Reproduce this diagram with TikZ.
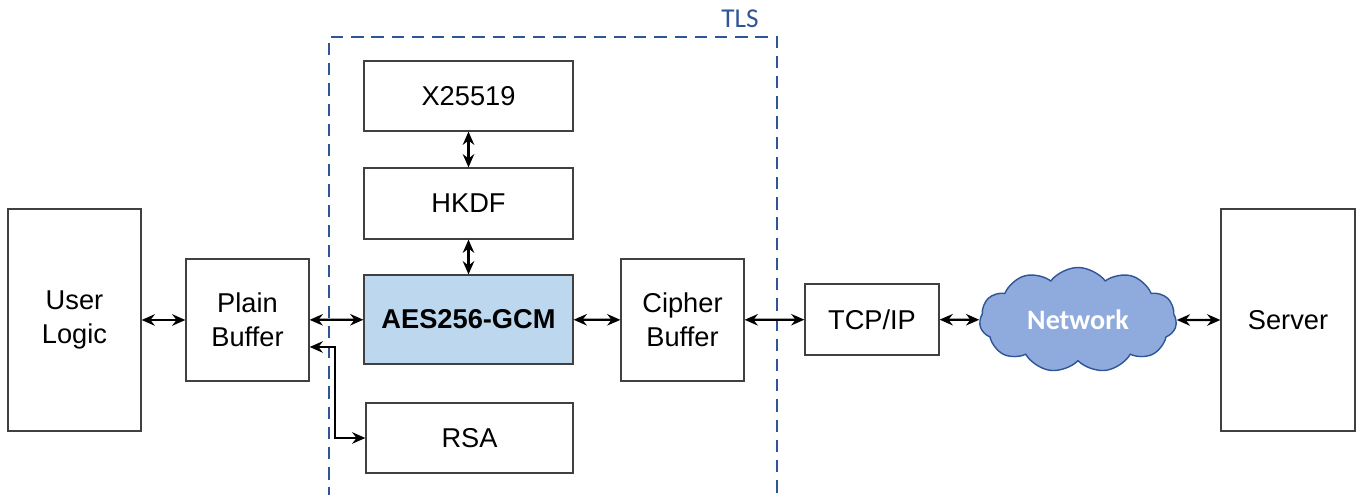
\documentclass[tikz,border=0pt]{standalone}
\usepackage{fontspec}
\setmainfont{Liberation Sans}
\newfontfamily\calibri{Carlito}
\usetikzlibrary{arrows.meta}
\usetikzlibrary{shapes.symbols}

\definecolor{tlsblue}{HTML}{2F5597}
\definecolor{aesfill}{HTML}{BDD7EE}
\definecolor{cloudfill}{HTML}{8FAADC}
\definecolor{boxline}{HTML}{404040}

\begin{document}
\begin{tikzpicture}[>={Stealth[length=7.5pt,width=6.5pt]}]
          \tikzstyle{block} = [draw=boxline, line width=0.7pt, align=center, font=\fontsize{15.5}{19.5}\selectfont]
          \tikzstyle{link} = [<->, line width=1.3pt, black]
          \useasboundingbox (0,0) rectangle (27.3,9.9);

          % TLS region
          \draw[tlsblue, line width=1.2pt, dash pattern=on 7pt off 4.5pt]
            (6.58,-0.5) -- (6.58,9.16) -- (15.54,9.16) -- (15.54,-0.5);
          \node[text=tlsblue, font=\calibri\fontsize{15.5}{18}\selectfont] (tls) at (14.8,9.52) {TLS};

          % Nodes
          \node[block, minimum width=2.66cm, minimum height=4.44cm] (user) at (1.49,3.5) {User\\Logic};
          \node[block, minimum width=2.46cm, minimum height=2.44cm] (plain) at (4.95,3.5) {Plain\\Buffer};
          \node[block, minimum width=4.18cm, minimum height=1.4cm] (x25519) at (9.37,7.98) {X25519};
          \node[block, minimum width=4.18cm, minimum height=1.42cm] (hkdf) at (9.37,5.83) {HKDF};
          \node[block, fill=aesfill, minimum width=4.18cm, minimum height=1.78cm] (aes) at (9.37,3.51) {\bfseries AES256-GCM};
          \node[block, minimum width=4.14cm, minimum height=1.4cm] (rsa) at (9.39,1.14) {RSA};
          \node[block, minimum width=2.46cm, minimum height=2.44cm] (cipher) at (13.65,3.5) {Cipher\\Buffer};
          \node[block, minimum width=2.68cm, minimum height=1.42cm] (tcp) at (17.44,3.51) {TCP/IP};
          \node[cloud, cloud puffs=11, cloud puff arc=105, aspect=1.9, draw=tlsblue, fill=cloudfill,
                line width=0.8pt, minimum width=3.94cm, minimum height=2.1cm, inner sep=0pt,
                text=white, font=\calibri\bfseries\fontsize{16}{18}\selectfont] (net) at (21.56,3.5) {Network};
          \node[block, minimum width=2.68cm, minimum height=4.44cm] (server) at (25.76,3.5) {Server};

          % Edges
          \draw[link] (user) -- (plain);
          \draw[link] (plain) -- (aes);
          \draw[link] (x25519) -- (hkdf);
          \draw[link] (hkdf) -- (aes);
          \draw[link] (aes) -- (cipher);
          \draw[link] (cipher) -- (tcp);
          \draw[link] (tcp) -- (net);
          \draw[link] (net) -- (server);
          \coordinate (bend) at (6.7,2.96);
          \draw[link] (plain.east |- bend) -- (bend) |- (rsa.west);

        \end{tikzpicture}
\end{document}
